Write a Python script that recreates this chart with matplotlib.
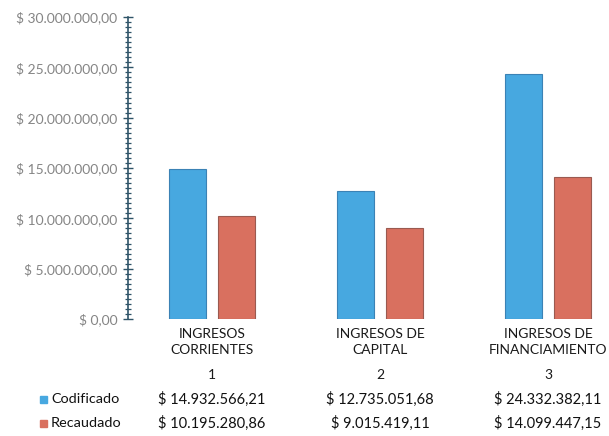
import matplotlib
matplotlib.use("Agg")
import matplotlib.pyplot as plt
import matplotlib.transforms as mtransforms
from matplotlib.ticker import FuncFormatter, MultipleLocator
import numpy as np

plt.rcParams['font.family'] = ['Lato', 'DejaVu Sans']

categorias = ["INGRESOS\nCORRIENTES", "INGRESOS DE\nCAPITAL", "INGRESOS DE\nFINANCIAMIENTO"]
numeros = ["1", "2", "3"]
codificado = [14932566.21, 12735051.68, 24332382.11]
recaudado = [10195280.86, 9015419.11, 14099447.15]
series = ["Codificado", "Recaudado"]

azul = "#47a8e0"
rojo = "#d9705f"


def moneda(v, pos=None):
    s = f"{v:,.2f}"
    s = s.replace(",", "X").replace(".", ",").replace("X", ".")
    return "$ " + s


fig = plt.figure(figsize=(6.09, 4.36), dpi=100)
ax = fig.add_axes([128 / 609, 117 / 436, 504 / 609, 302 / 436])

x = np.arange(len(categorias))
w = 0.22
off = 0.143
ax.bar(x - off, codificado, w, color=azul, edgecolor="#3b82b5", linewidth=0.8)
ax.bar(x + off, recaudado, w, color=rojo, edgecolor="#9a5a50", linewidth=0.8)

ax.set_xlim(-0.5, 2.5)
ax.set_ylim(0, 30000000)
ax.yaxis.set_major_locator(MultipleLocator(5000000))
ax.yaxis.set_minor_locator(MultipleLocator(500000))
ax.yaxis.set_major_formatter(FuncFormatter(moneda))
ax.tick_params(axis='y', which='major', direction='inout', length=7, width=1,
               color="#2f5468", labelsize=10, labelcolor="#858585", pad=4)
ax.tick_params(axis='y', which='minor', direction='inout', length=5, width=0.9,
               color="#2f5468")
ax.set_xticks([])
for s in ['top', 'right', 'bottom']:
    ax.spines[s].set_visible(False)
ax.spines['left'].set_color("#2f5468")
ax.spines['left'].set_linewidth(1.2)

# tabla de datos bajo el gráfico
tr = mtransforms.blended_transform_factory(ax.transData, fig.transFigure)


def fy(py):
    return 1 - py / 436


for i in range(len(categorias)):
    ax.text(x[i], fy(342), categorias[i], transform=tr, ha='center', va='center',
            fontsize=10, linespacing=1.45, color="#1a1a1a")
    ax.text(x[i], fy(375), numeros[i], transform=tr, ha='center', va='center',
            fontsize=10, color="#1a1a1a")
    ax.text(x[i], fy(399), moneda(codificado[i]), transform=tr, ha='center',
            va='center', fontsize=10.5, color="#111111")
    ax.text(x[i], fy(423), moneda(recaudado[i]), transform=tr, ha='center',
            va='center', fontsize=10.5, color="#111111")

for nombre, col, py in [(series[0], azul, 399), (series[1], rojo, 423)]:
    fig.patches.append(plt.Rectangle((40 / 609, fy(py) - 3.5 / 436), 7 / 609, 7 / 436,
                                     transform=fig.transFigure, color=col))
    fig.text(51 / 609, fy(py), nombre, ha='left', va='center', fontsize=10.4,
             color="#111111")

fig.savefig("out.png", dpi=100)
